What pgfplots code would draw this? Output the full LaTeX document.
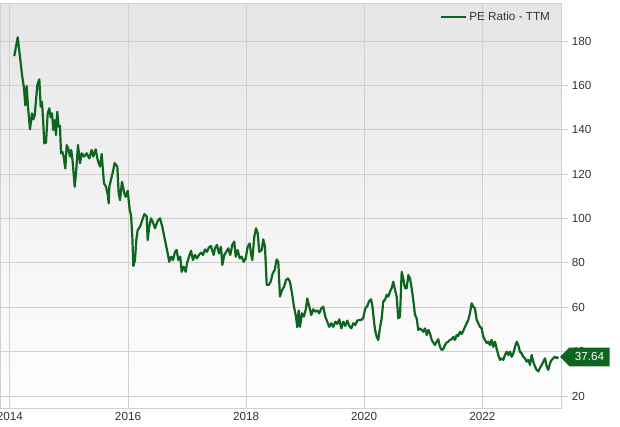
\documentclass[border=0pt]{standalone}
\usepackage{fontspec}
\setmainfont{Liberation Sans}
\usepackage{pgfplots}
\pgfplotsset{compat=1.18}
\usepackage{pgfplotstable}
\usetikzlibrary{shapes.symbols}
\definecolor{peGreen}{RGB}{14,101,30}
\definecolor{gridGray}{RGB}{208,208,208}
\definecolor{tickText}{RGB}{51,51,51}

\pgfplotstableread{
year value
2014.074 173.2
2014.132 181.7
2014.183 170.0
2014.205 164.7
2014.239 158.7
2014.260 151.0
2014.284 159.7
2014.306 150.4
2014.340 140.2
2014.374 147.4
2014.396 144.7
2014.420 146.6
2014.442 153.4
2014.464 160.2
2014.498 162.7
2014.521 150.4
2014.543 152.6
2014.565 142.9
2014.582 133.9
2014.611 134.2
2014.640 147.4
2014.667 149.7
2014.691 145.6
2014.713 147.4
2014.735 139.9
2014.763 144.4
2014.780 137.6
2014.802 148.1
2014.826 141.4
2014.848 141.7
2014.865 129.4
2014.887 130.1
2014.911 127.9
2014.938 122.6
2014.962 133.1
2014.995 130.9
2015.017 127.9
2015.039 130.9
2015.063 125.6
2015.097 114.3
2015.119 120.4
2015.153 133.1
2015.187 124.9
2015.216 129.4
2015.255 127.9
2015.300 129.4
2015.344 127.1
2015.385 130.9
2015.412 127.9
2015.453 131.2
2015.486 126.4
2015.526 123.4
2015.554 129.1
2015.593 115.9
2015.627 114.3
2015.656 111.0
2015.673 106.9
2015.683 114.3
2015.751 121.9
2015.773 125.0
2015.819 123.4
2015.842 111.4
2015.864 108.3
2015.898 116.6
2015.937 111.4
2015.961 109.8
2015.995 112.5
2016.029 103.8
2016.051 101.6
2016.073 91.8
2016.090 78.6
2016.118 81.3
2016.140 90.3
2016.164 94.8
2016.203 96.3
2016.242 99.3
2016.276 102.0
2016.316 101.1
2016.333 90.3
2016.360 96.3
2016.389 100.1
2016.418 98.6
2016.457 95.6
2016.503 99.0
2016.542 100.1
2016.581 96.3
2016.614 91.8
2016.638 88.8
2016.672 84.3
2016.699 80.5
2016.728 82.8
2016.762 81.3
2016.796 85.0
2016.824 85.8
2016.852 81.3
2016.885 82.8
2016.909 76.0
2016.943 78.3
2016.977 76.0
2016.999 79.8
2017.033 82.8
2017.067 85.5
2017.100 81.3
2017.134 83.6
2017.168 82.1
2017.202 83.6
2017.236 84.6
2017.270 83.6
2017.304 86.1
2017.338 85.0
2017.371 87.0
2017.405 87.6
2017.427 85.5
2017.451 83.6
2017.473 86.6
2017.507 88.1
2017.541 84.3
2017.575 87.3
2017.597 79.1
2017.631 83.6
2017.664 85.0
2017.698 86.6
2017.732 83.6
2017.766 88.1
2017.800 89.6
2017.824 82.8
2017.858 85.8
2017.891 82.1
2017.925 82.8
2017.959 80.5
2017.993 82.1
2018.027 87.3
2018.061 88.8
2018.083 84.3
2018.105 81.3
2018.139 91.8
2018.168 95.6
2018.196 93.4
2018.223 85.0
2018.264 85.8
2018.291 90.6
2018.320 87.3
2018.349 70.1
2018.383 70.1
2018.416 71.5
2018.450 75.3
2018.484 76.8
2018.518 81.6
2018.545 80.5
2018.574 64.8
2018.608 67.8
2018.642 69.2
2018.676 72.3
2018.709 73.0
2018.743 71.5
2018.777 66.3
2018.811 60.3
2018.845 55.8
2018.867 51.0
2018.890 58.6
2018.913 51.2
2018.946 57.3
2018.980 55.8
2019.014 59.5
2019.036 64.0
2019.070 60.3
2019.104 56.5
2019.138 59.1
2019.172 58.0
2019.206 58.6
2019.239 57.3
2019.273 59.5
2019.307 60.3
2019.341 55.8
2019.375 53.5
2019.409 51.2
2019.443 52.8
2019.477 51.2
2019.510 53.5
2019.544 52.5
2019.578 54.6
2019.612 50.5
2019.646 53.5
2019.680 51.6
2019.714 54.0
2019.748 51.6
2019.781 50.5
2019.815 52.8
2019.849 52.0
2019.883 54.0
2019.917 54.3
2019.951 54.3
2019.985 55.2
2020.018 59.5
2020.052 60.5
2020.081 62.6
2020.115 63.6
2020.137 61.0
2020.161 55.0
2020.183 49.8
2020.211 46.7
2020.239 45.3
2020.262 49.8
2020.296 55.0
2020.323 62.6
2020.352 63.4
2020.381 65.6
2020.408 64.8
2020.437 67.1
2020.465 68.6
2020.493 71.5
2020.522 67.8
2020.550 64.8
2020.577 55.0
2020.606 55.8
2020.635 76.0
2020.662 73.0
2020.691 68.6
2020.720 68.6
2020.747 74.5
2020.776 73.0
2020.804 68.6
2020.831 63.4
2020.860 56.6
2020.889 55.0
2020.916 49.8
2020.945 50.5
2020.974 49.8
2021.001 49.0
2021.030 50.5
2021.059 47.5
2021.086 49.8
2021.114 48.3
2021.143 45.3
2021.170 44.1
2021.199 43.0
2021.228 44.5
2021.255 45.6
2021.283 42.2
2021.312 40.8
2021.339 41.1
2021.368 43.0
2021.397 44.1
2021.424 44.5
2021.453 45.3
2021.482 45.6
2021.509 46.7
2021.537 45.3
2021.566 47.5
2021.593 47.1
2021.622 49.0
2021.651 47.9
2021.678 49.4
2021.707 51.2
2021.736 52.8
2021.763 54.3
2021.791 57.3
2021.820 61.8
2021.847 60.3
2021.876 59.5
2021.905 54.3
2021.932 52.8
2021.961 51.2
2021.990 50.5
2022.017 46.7
2022.045 45.3
2022.074 43.8
2022.101 44.5
2022.130 43.0
2022.159 45.3
2022.186 42.2
2022.215 44.5
2022.243 41.5
2022.271 38.5
2022.300 36.3
2022.328 37.0
2022.356 36.3
2022.384 38.5
2022.413 40.0
2022.440 38.5
2022.469 40.0
2022.498 37.7
2022.525 39.2
2022.554 42.2
2022.583 44.5
2022.610 43.0
2022.638 40.0
2022.667 39.2
2022.694 37.7
2022.723 37.0
2022.752 35.5
2022.779 36.3
2022.808 34.0
2022.836 38.5
2022.863 35.5
2022.892 33.3
2022.921 31.8
2022.948 31.1
2022.977 32.6
2023.006 34.0
2023.033 35.5
2023.062 37.0
2023.091 33.3
2023.118 31.8
2023.146 34.8
2023.175 36.3
2023.202 37.0
2023.231 37.7
2023.260 37.0
2023.287 37.64
}\petable

\begin{document}
\fontsize{11.7pt}{14pt}\selectfont
\begin{tikzpicture}
\begin{axis}[
  at={(0pt,0pt)}, anchor=south west,
  scale only axis,
  width=561.7pt, height=404.7pt,
  xmin=2013.832, xmax=2023.345,
  ymin=14.3, ymax=196.7,
  clip=false,
  axis background/.style={top color=black!10, bottom color=white},
  axis line style={gridGray, line width=1pt},
  grid=major,
  major grid style={gridGray, line width=1pt},
  xtick={2014,2016,2018,2020,2022},
  xticklabels={2014,2016,2018,2020,2022},
  x tick style={draw=none},
  xticklabel style={yshift=6pt},
  xtick pos=bottom,
  ytick={20,40,...,180},
  ytick pos=right,
  yticklabel pos=right,
  tick align=outside,
  major tick length=6pt,
  y tick style={gridGray, line width=1pt},
  tick label style={text=tickText, font=\fontsize{11.7pt}{14pt}\selectfont},
  /pgf/number format/assume math mode=true,
  /pgf/number format/1000 sep={},
  legend style={draw=none, fill=none, inner sep=0pt, at={(rel axis cs:0.983,0.968)}, anchor=east, font=\fontsize{11.7pt}{14pt}\selectfont, text=tickText},
  legend image code/.code={\draw[#1, line width=2.3pt] (-4pt,0pt) -- (21pt,0pt);},
]
\addplot[peGreen, line width=2.2pt, line join=round] table[x=year, y=value] {\petable};
\addlegendentry{PE Ratio - TTM}
\node[signal, signal to=west, signal pointer angle=90, fill=peGreen, text=white,
      minimum height=18.7pt, inner xsep=5.5pt, inner ysep=0pt, anchor=west,
      font=\fontsize{11.7pt}{14pt}\selectfont] at (axis cs:2023.31,37.64) {37.64};
\end{axis}
\pgfresetboundingbox
\path[use as bounding box] (0pt,-18.3pt) rectangle (620pt,408.7pt);
\end{tikzpicture}
\end{document}
